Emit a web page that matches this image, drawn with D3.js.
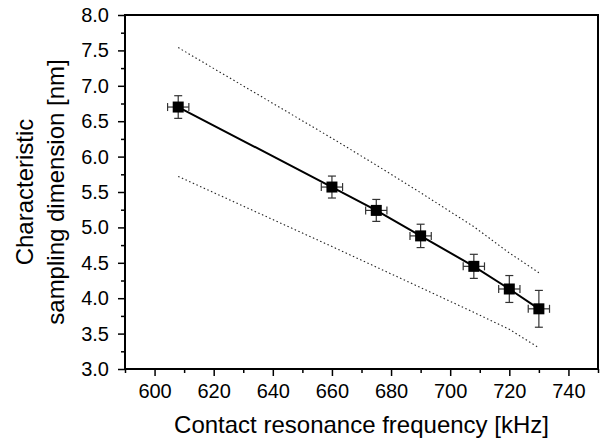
<!DOCTYPE html>
<html>
<head>
<meta charset="utf-8">
<script src="https://cdn.jsdelivr.net/npm/d3@7"></script>
<style>
    body { margin: 0; background: #fff; }
    text { font-family: "Liberation Sans", Arial, sans-serif; fill: #000; }
</style>
</head>
<body>
<div id="chart"></div>
<script>
// values
const freq = [608, 660, 675, 690, 708, 720, 730];
const dim = [6.70, 5.57, 5.24, 4.88, 4.45, 4.13, 3.85];
const freqErr = [3.6, 3.6, 3.6, 3.6, 3.6, 3.6, 3.6];
const dimErr = [0.16, 0.155, 0.155, 0.165, 0.17, 0.19, 0.26];
const upperBound = [7.54, 6.26, 5.88, 5.49, 5.01, 4.64, 4.36];
const lowerBound = [5.72, 4.73, 4.44, 4.15, 3.80, 3.56, 3.30];
const xTicks = [600, 620, 640, 660, 680, 700, 720, 740];
const yTicks = [3.0, 3.5, 4.0, 4.5, 5.0, 5.5, 6.0, 6.5, 7.0, 7.5, 8.0];

const W = 602, H = 441;
const margin = {top: 15, right: 4, bottom: 72, left: 125};
const w = W - margin.left - margin.right;
const h = H - margin.top - margin.bottom;

const svg = d3.select("#chart").append("svg")
    .attr("width", W)
    .attr("height", H);

const g = svg.append("g")
    .attr("transform", `translate(${margin.left},${margin.top})`);

const x = d3.scaleLinear().domain([590, 750]).range([0, w]);
const y = d3.scaleLinear().domain([3, 8]).range([h, 0]);

// minor ticks
const xMinor = d3.range(590, 751, 10).filter(v => v % 20 !== 0);
const yMinor = d3.range(3.25, 8, 0.5);

g.append("g")
    .attr("transform", `translate(0,${h})`)
    .call(d3.axisBottom(x).tickValues(xMinor).tickSize(4).tickFormat(""))
    .call(a => a.select(".domain").remove())
    .selectAll("line").attr("stroke-width", 1.5);

g.append("g")
    .call(d3.axisLeft(y).tickValues(yMinor).tickSize(4).tickFormat(""))
    .call(a => a.select(".domain").remove())
    .selectAll("line").attr("stroke-width", 1.5);

const xAxis = g.append("g")
    .attr("transform", `translate(0,${h})`)
    .call(d3.axisBottom(x).tickValues(xTicks).tickSize(7).tickPadding(8).tickFormat(d3.format("d")));
xAxis.select(".domain").remove();
xAxis.selectAll("line").attr("stroke-width", 1.5);
xAxis.selectAll("text").attr("font-size", 20).attr("font-family", "Liberation Sans, Arial, sans-serif");

const yAxis = g.append("g")
    .call(d3.axisLeft(y).tickValues(yTicks).tickSize(7).tickPadding(9).tickFormat(d3.format(".1f")));
yAxis.select(".domain").remove();
yAxis.selectAll("line").attr("stroke-width", 1.5);
yAxis.selectAll("text").attr("font-size", 20).attr("font-family", "Liberation Sans, Arial, sans-serif");

// frame
g.append("rect")
    .attr("width", w)
    .attr("height", h)
    .attr("fill", "none")
    .attr("stroke", "#000")
    .attr("stroke-width", 2);

const pts = freq.map((f, i) => ({f, d: dim[i], fe: freqErr[i], de: dimErr[i]}));

// dotted confidence lines
const bandLine = d3.line().x(d => x(d[0])).y(d => y(d[1]));
[upperBound, lowerBound].forEach(arr => {
    g.append("path")
        .datum(freq.map((f, i) => [f, arr[i]]))
        .attr("d", bandLine)
        .attr("fill", "none")
        .attr("stroke", "#222")
        .attr("stroke-width", 1.1)
        .attr("stroke-dasharray", "1.5,2.5");
});

// connecting line
g.append("path")
    .datum(pts)
    .attr("d", d3.line().x(d => x(d.f)).y(d => y(d.d)))
    .attr("fill", "none")
    .attr("stroke", "#000")
    .attr("stroke-width", 2);

// error bars
const err = g.append("g").attr("stroke", "#333").attr("stroke-width", 1.2);
const cap = 4;
pts.forEach(p => {
    const cx = x(p.f), cy = y(p.d);
    const y0 = y(p.d - p.de), y1 = y(p.d + p.de);
    const x0 = x(p.f - p.fe), x1 = x(p.f + p.fe);
    err.append("line").attr("x1", cx).attr("x2", cx).attr("y1", y0).attr("y2", y1);
    err.append("line").attr("x1", cx - cap).attr("x2", cx + cap).attr("y1", y0).attr("y2", y0);
    err.append("line").attr("x1", cx - cap).attr("x2", cx + cap).attr("y1", y1).attr("y2", y1);
    err.append("line").attr("x1", x0).attr("x2", x1).attr("y1", cy).attr("y2", cy);
    err.append("line").attr("x1", x0).attr("x2", x0).attr("y1", cy - cap).attr("y2", cy + cap);
    err.append("line").attr("x1", x1).attr("x2", x1).attr("y1", cy - cap).attr("y2", cy + cap);
});

// square markers
const s = 11;
g.selectAll(".pt")
    .data(pts)
    .enter().append("rect")
    .attr("class", "pt")
    .attr("x", d => x(d.f) - s / 2)
    .attr("y", d => y(d.d) - s / 2)
    .attr("width", s)
    .attr("height", s)
    .attr("fill", "#000");

// axis titles
svg.append("text")
    .attr("x", margin.left + w / 2)
    .attr("y", 433)
    .attr("text-anchor", "middle")
    .attr("font-size", 24)
    .text("Contact resonance frequency [kHz]");

const yt = svg.append("text")
    .attr("transform", `translate(0,${margin.top + h / 2}) rotate(-90)`)
    .attr("text-anchor", "middle")
    .attr("font-size", 24);
yt.append("tspan").attr("x", 0).attr("y", 33).text("Characteristic");
yt.append("tspan").attr("x", 0).attr("y", 64).text("sampling dimension [nm]");
</script>
</body>
</html>
